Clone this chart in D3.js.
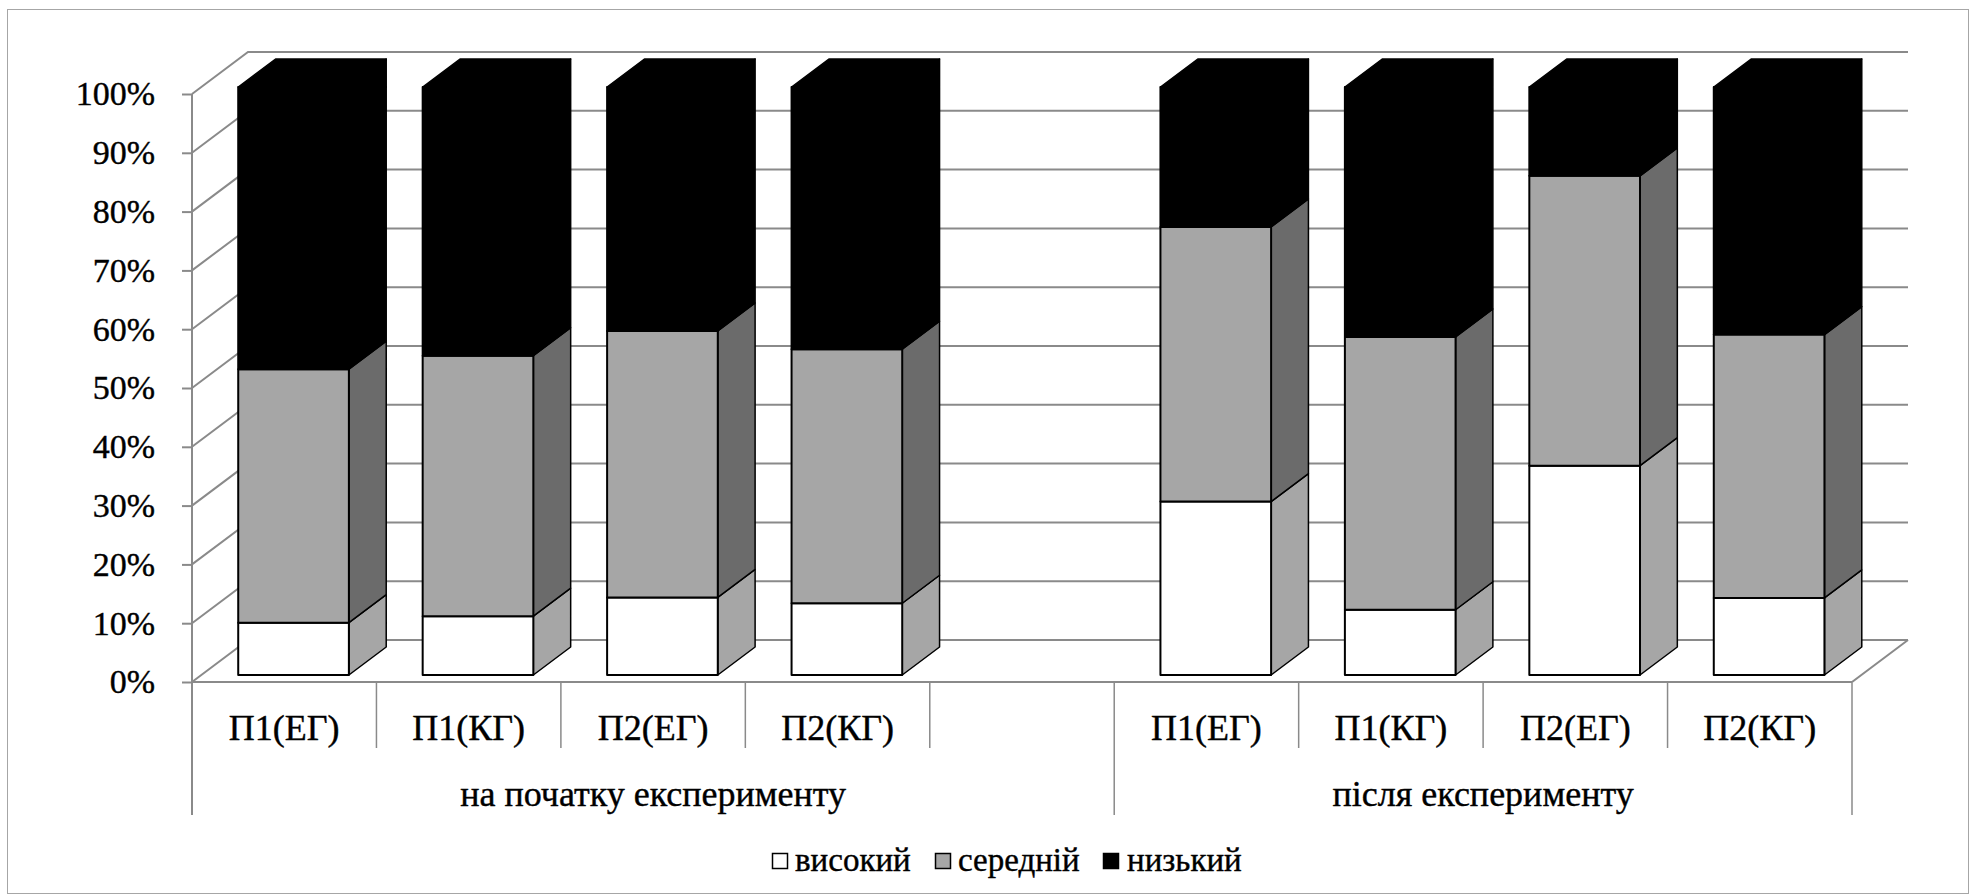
<!DOCTYPE html>
<html>
<head>
<meta charset="utf-8">
<script src="https://cdn.jsdelivr.net/npm/d3@7/dist/d3.min.js"></script>
<style>
  html, body { margin: 0; padding: 0; background: #ffffff; }
  svg { display: block; }
  svg text { font-family: "Liberation Serif", "Times New Roman", serif; fill: #000; stroke: #000; stroke-width: 0.4px; }
</style>
</head>
<body>
<svg id="chart" width="1972" height="896"></svg>
<script>
// ---- data ----
const groups = ["на початку експерименту", "після експерименту"];
const categories = ["П1(ЕГ)", "П1(КГ)", "П2(ЕГ)", "П2(КГ)"];
const seriesNames = ["високий", "середній", "низький"];
// values per bar, order: group 1 (4 bars) then group 2 (4 bars), in %
const high = [8.9, 10.0, 13.2, 12.2, 29.5, 11.1, 35.6, 13.1];
const mid  = [43.1, 44.3, 45.3, 43.2, 46.7, 46.4, 49.3, 44.8];
const low  = [48.0, 45.7, 41.5, 44.6, 23.8, 42.5, 15.1, 42.1];
const yTicks = [0, 10, 20, 30, 40, 50, 60, 70, 80, 90, 100];
const yTickLabels = ["0%", "10%", "20%", "30%", "40%", "50%", "60%", "70%", "80%", "90%", "100%"];

// ---- styles ----
const frontFill = ["#ffffff", "#a6a6a6", "#000000"];
const sideFill  = ["#a6a6a6", "#6b6b6b", "#000000"];
const gridColor = "#8a8a8a";
const FONT = "'Liberation Serif', 'Times New Roman', serif";

// ---- layout ----
const svg = d3.select("#chart");
const plotLeft = 192, plotRight = 1852, plotBottom = 682, plotTop = 94;
const depthDX = 56, depthDY = 42;          // full depth of the 3D box
const zFront = 1 / 6, zBack = 5 / 6;       // bar depth within box
const barFrac = 0.6;

// slots: 4 categories + 1 empty slot in group 1, then 4 categories in group 2
const slots = [];
categories.forEach(c => slots.push({ g: 0, c }));
slots.push({ g: 0, c: null });
categories.forEach(c => slots.push({ g: 1, c }));
const slotKeys = slots.map((s, i) => "s" + i);

const x = d3.scaleBand().domain(slotKeys).range([plotLeft, plotRight]).paddingInner(0).paddingOuter(0);
const y = d3.scaleLinear().domain([0, 100]).range([plotBottom, plotTop]);

const P = (px, v, z) => [px + depthDX * z, y(v) - depthDY * z];
const poly = pts => pts.map(p => p[0].toFixed(2) + "," + p[1].toFixed(2)).join(" ");

// outer chart border
svg.append("rect")
  .attr("x", 7.5).attr("y", 9.5)
  .attr("width", 1961).attr("height", 884)
  .attr("fill", "none").attr("stroke", "#a6a6a6").attr("stroke-width", 1);

// ---- walls / gridlines ----
const grid = svg.append("g").attr("stroke", gridColor).attr("stroke-width", 2).attr("fill", "none");
yTicks.forEach(t => {
  const a = P(plotLeft, t, 0), b = P(plotLeft, t, 1), c = P(plotRight, t, 1);
  grid.append("polyline").attr("points", poly([a, b, c]));
});
grid.append("polyline").attr("points", poly([P(plotLeft, 0, 0), P(plotRight, 0, 0), P(plotRight, 0, 1)]));

// left axis vertical (extends down through category area)
const catLineBottom = 748, groupLineBottom = 815;
svg.append("line")
  .attr("x1", plotLeft).attr("x2", plotLeft)
  .attr("y1", y(100)).attr("y2", groupLineBottom)
  .attr("stroke", gridColor).attr("stroke-width", 2);

// y axis ticks + labels
const yAxis = d3.axisLeft(y)
  .tickValues(yTicks)
  .tickFormat((d, i) => yTickLabels[i])
  .tickSize(10)
  .tickPadding(27);
const gy = svg.append("g").attr("transform", `translate(${plotLeft},0)`).call(yAxis);
gy.attr("font-family", null).attr("font-size", null);
gy.select(".domain").remove();
gy.selectAll(".tick line").attr("stroke", gridColor).attr("stroke-width", 2);
gy.selectAll(".tick text")
  .style("font-family", FONT)
  .attr("font-size", 34).attr("fill", "#000");

// category dividers
const dividers = svg.append("g").attr("stroke", gridColor).attr("stroke-width", 1.5);
slotKeys.forEach((k, i) => {
  if (i === 0) return;
  const xx = x(k);
  const isGroupEdge = slots[i].g !== slots[i - 1].g;
  dividers.append("line").attr("x1", xx).attr("x2", xx)
    .attr("y1", plotBottom + 1).attr("y2", isGroupEdge ? groupLineBottom : catLineBottom);
});
dividers.append("line").attr("x1", plotRight).attr("x2", plotRight)
  .attr("y1", plotBottom + 1).attr("y2", groupLineBottom);

// category labels
slots.forEach((s, i) => {
  if (!s.c) return;
  svg.append("text")
    .attr("x", x(slotKeys[i]) + x.bandwidth() / 2)
    .attr("y", 740)
    .attr("text-anchor", "middle")
    .style("font-family", FONT)
    .attr("font-size", 36)
    .text(s.c);
});
// group labels
groups.forEach((g, gi) => {
  const idx = slots.map((s, i) => i).filter(i => slots[i].g === gi);
  const x0 = x(slotKeys[idx[0]]);
  const x1 = x(slotKeys[idx[idx.length - 1]]) + x.bandwidth();
  svg.append("text")
    .attr("x", (x0 + x1) / 2).attr("y", 806)
    .attr("text-anchor", "middle")
    .style("font-family", FONT)
    .attr("font-size", 36)
    .text(g);
});

// ---- bars ----
const barSlots = slots.map((s, i) => i).filter(i => slots[i].c !== null);
const bars = svg.append("g");
barSlots.forEach((si, bi) => {
  const vals = [high[bi], mid[bi], low[bi]];
  const cx = x(slotKeys[si]) + x.bandwidth() / 2;
  const bw = x.bandwidth() * barFrac;
  const x0 = cx - bw / 2, x1 = cx + bw / 2;
  let base = 0;
  vals.forEach((v, k) => {
    const v0 = base, v1 = base + v;
    base = v1;
    const stroke = "#000";
    bars.append("polygon")
      .attr("points", poly([P(x1, v0, zFront), P(x1, v0, zBack), P(x1, v1, zBack), P(x1, v1, zFront)]))
      .attr("fill", sideFill[k]).attr("stroke", stroke).attr("stroke-width", 1.5).attr("stroke-linejoin", "round");
    bars.append("polygon")
      .attr("points", poly([P(x0, v0, zFront), P(x1, v0, zFront), P(x1, v1, zFront), P(x0, v1, zFront)]))
      .attr("fill", frontFill[k]).attr("stroke", stroke).attr("stroke-width", 2).attr("stroke-linejoin", "round");
    if (k === vals.length - 1) {
      bars.append("polygon")
        .attr("points", poly([P(x0, v1, zFront), P(x0, v1, zBack), P(x1, v1, zBack), P(x1, v1, zFront)]))
        .attr("fill", frontFill[k]).attr("stroke", stroke).attr("stroke-width", 1.5).attr("stroke-linejoin", "round");
    }
  });
});

// ---- legend ----
const legendItems = [
  { box: 772, text: 795 },
  { box: 935, text: 958 },
  { box: 1103, text: 1127 }
];
const legend = svg.append("g");
seriesNames.forEach((name, i) => {
  legend.append("rect")
    .attr("x", legendItems[i].box + 0.5).attr("y", 853.5)
    .attr("width", 15).attr("height", 15)
    .attr("fill", frontFill[i]).attr("stroke", "#000").attr("stroke-width", 1.5);
  legend.append("text")
    .attr("x", legendItems[i].text).attr("y", 871)
    .style("font-family", FONT)
    .attr("font-size", 33)
    .text(name);
});
</script>
</body>
</html>
